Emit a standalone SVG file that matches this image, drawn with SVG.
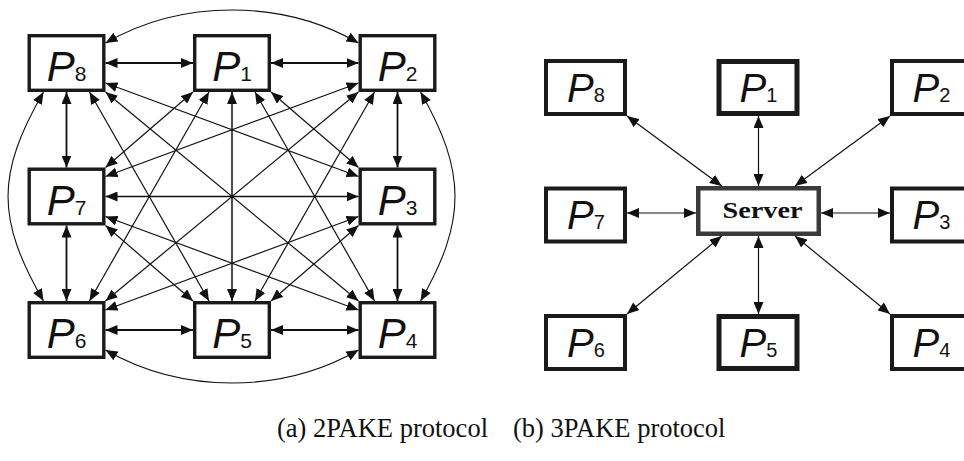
<svg xmlns="http://www.w3.org/2000/svg" width="964" height="461" viewBox="0 0 964 461">
  <defs>
    <marker id="tip" viewBox="0 0 12 10" refX="12" refY="5" markerWidth="12" markerHeight="10" markerUnits="userSpaceOnUse" orient="auto-start-reverse">
      <path d="M0,0 L12,5 L0,10 z" fill="#111"/>
    </marker>
  </defs>
  <style>
    .box{fill:#fff;stroke:#1a1a1a;stroke-width:3.4}
    .rbox{fill:#fff;stroke:#1a1a1a;stroke-width:4}
    .rbox.thick{stroke-width:5}
    .srv{fill:#fff;stroke:#3a3a3a;stroke-width:4.5}
    .lbl{font-family:"Liberation Sans","DejaVu Sans",sans-serif;font-style:italic;fill:#111}
    .sub{font-style:normal}
    .srvtxt{font-family:"Liberation Serif","Times New Roman",serif;font-weight:bold;font-size:24px;fill:#111}
    .e{fill:none;stroke:#111;marker-start:url(#tip);marker-end:url(#tip)}
    .adj{stroke-width:1.8}
    .mid{stroke-width:1.5}
    .diag{stroke-width:1.2}
    .arc{stroke-width:1.1}
    .cap{font-family:"Liberation Serif","Times New Roman",serif;font-size:26.5px;fill:#111}
  </style>

  <!-- (a) fully connected parties -->
  <g id="a-P8"><rect class="box" x="29.2" y="35.7" width="74.6" height="54.6"/><text class="lbl" x="66.5" y="81" text-anchor="middle" font-size="42">P<tspan class="sub" font-size="21">8</tspan></text></g>
  <g id="a-P1"><rect class="box" x="194.7" y="35.7" width="74.6" height="54.6"/><text class="lbl" x="232" y="81" text-anchor="middle" font-size="42">P<tspan class="sub" font-size="21">1</tspan></text></g>
  <g id="a-P2"><rect class="box" x="360.2" y="35.7" width="74.6" height="54.6"/><text class="lbl" x="397.5" y="81" text-anchor="middle" font-size="42">P<tspan class="sub" font-size="21">2</tspan></text></g>
  <g id="a-P7"><rect class="box" x="29.2" y="169.2" width="74.6" height="54.6"/><text class="lbl" x="66.5" y="214.5" text-anchor="middle" font-size="42">P<tspan class="sub" font-size="21">7</tspan></text></g>
  <g id="a-P3"><rect class="box" x="360.2" y="169.2" width="74.6" height="54.6"/><text class="lbl" x="397.5" y="214.5" text-anchor="middle" font-size="42">P<tspan class="sub" font-size="21">3</tspan></text></g>
  <g id="a-P6"><rect class="box" x="29.2" y="302.7" width="74.6" height="54.6"/><text class="lbl" x="66.5" y="348" text-anchor="middle" font-size="42">P<tspan class="sub" font-size="21">6</tspan></text></g>
  <g id="a-P5"><rect class="box" x="194.7" y="302.7" width="74.6" height="54.6"/><text class="lbl" x="232" y="348" text-anchor="middle" font-size="42">P<tspan class="sub" font-size="21">5</tspan></text></g>
  <g id="a-P4"><rect class="box" x="360.2" y="302.7" width="74.6" height="54.6"/><text class="lbl" x="397.5" y="348" text-anchor="middle" font-size="42">P<tspan class="sub" font-size="21">4</tspan></text></g>

  <g id="a-links">
    <!-- neighbours in the same row / column -->
    <path class="e adj" d="M105.5,63 H193"/>
    <path class="e adj" d="M271,63 H358.5"/>
    <path class="e adj" d="M105.5,330 H193"/>
    <path class="e adj" d="M271,330 H358.5"/>
    <path class="e adj" d="M66.5,92 V167.5"/>
    <path class="e adj" d="M66.5,225.5 V301"/>
    <path class="e adj" d="M397.5,92 V167.5"/>
    <path class="e adj" d="M397.5,225.5 V301"/>
    <!-- lines through the centre -->
    <path class="e mid" d="M105.5,196.5 H358.5"/>
    <path class="e mid" d="M232,92 V301"/>
    <!-- outer arcs between corner parties -->
    <path class="e arc" d="M105.5,43 C181.7,-1 282.3,-1 358.5,43"/>
    <path class="e arc" d="M105.5,350 C182.5,394 281.5,394 358.5,350"/>
    <path class="e arc" d="M43.5,92 C-3.8,174 -3.8,219 43.5,301"/>
    <path class="e arc" d="M420.5,92 C466.5,172 466.5,221 420.5,301"/>
    <!-- diagonals -->
    <path class="e diag" d="M105.5,83 L358.5,176.5"/>
    <path class="e diag" d="M105.5,92 L358.5,301"/>
    <path class="e diag" d="M89.5,92 L209,301"/>
    <path class="e diag" d="M193,92 L105.5,167.5"/>
    <path class="e diag" d="M209,92 L89.5,301"/>
    <path class="e diag" d="M255,92 L374.5,301"/>
    <path class="e diag" d="M271,92 L358.5,167.5"/>
    <path class="e diag" d="M358.5,83 L105.5,176.5"/>
    <path class="e diag" d="M358.5,92 L105.5,301"/>
    <path class="e diag" d="M374.5,92 L255,301"/>
    <path class="e diag" d="M105.5,216.5 L358.5,310"/>
    <path class="e diag" d="M105.5,225.5 L193,301"/>
    <path class="e diag" d="M358.5,216.5 L105.5,310"/>
    <path class="e diag" d="M358.5,225.5 L271,301"/>
  </g>

  <!-- (b) parties around a server -->
  <g id="b-P8"><rect class="rbox" x="546" y="61" width="79" height="53"/><text class="lbl" x="586" y="101.5" text-anchor="middle" font-size="40">P<tspan class="sub" font-size="20">8</tspan></text></g>
  <g id="b-P1"><rect class="rbox thick" x="719" y="61.5" width="78" height="52"/><text class="lbl" x="758.5" y="101.5" text-anchor="middle" font-size="40">P<tspan class="sub" font-size="20">1</tspan></text></g>
  <g id="b-P2"><rect class="rbox" x="892" y="61" width="79" height="53"/><text class="lbl" x="931.5" y="101.5" text-anchor="middle" font-size="40">P<tspan class="sub" font-size="20">2</tspan></text></g>
  <g id="b-P7"><rect class="rbox" x="546" y="188.5" width="79" height="53"/><text class="lbl" x="586" y="229" text-anchor="middle" font-size="40">P<tspan class="sub" font-size="20">7</tspan></text></g>
  <g id="b-P3"><rect class="rbox" x="892" y="188.5" width="79" height="53"/><text class="lbl" x="931.5" y="229" text-anchor="middle" font-size="40">P<tspan class="sub" font-size="20">3</tspan></text></g>
  <g id="b-P6"><rect class="rbox" x="546" y="316" width="79" height="53"/><text class="lbl" x="586" y="356.5" text-anchor="middle" font-size="40">P<tspan class="sub" font-size="20">6</tspan></text></g>
  <g id="b-P5"><rect class="rbox thick" x="719" y="316.5" width="78" height="52"/><text class="lbl" x="758.5" y="356.5" text-anchor="middle" font-size="40">P<tspan class="sub" font-size="20">5</tspan></text></g>
  <g id="b-P4"><rect class="rbox" x="892" y="316" width="79" height="53"/><text class="lbl" x="931.5" y="356.5" text-anchor="middle" font-size="40">P<tspan class="sub" font-size="20">4</tspan></text></g>
  <g id="b-server"><rect class="srv" x="698.25" y="188.25" width="120.5" height="45.5"/><text class="srvtxt" x="722.5" y="218" textLength="80" lengthAdjust="spacingAndGlyphs">Server</text></g>

  <g id="b-links">
    <path class="e diag" d="M627,116 L721.7,186"/>
    <path class="e diag" d="M758.5,116 V186"/>
    <path class="e diag" d="M890,116 L795,186"/>
    <path class="e diag" d="M627,213 H696"/>
    <path class="e diag" d="M821,213 H890"/>
    <path class="e diag" d="M721.7,236 L627,314"/>
    <path class="e diag" d="M758.5,236 V314"/>
    <path class="e diag" d="M795,236 L890,314"/>
  </g>

  <text class="cap" x="277" y="437">(a) 2PAKE protocol</text>
  <text class="cap" x="513" y="437">(b) 3PAKE protocol</text>
</svg>
